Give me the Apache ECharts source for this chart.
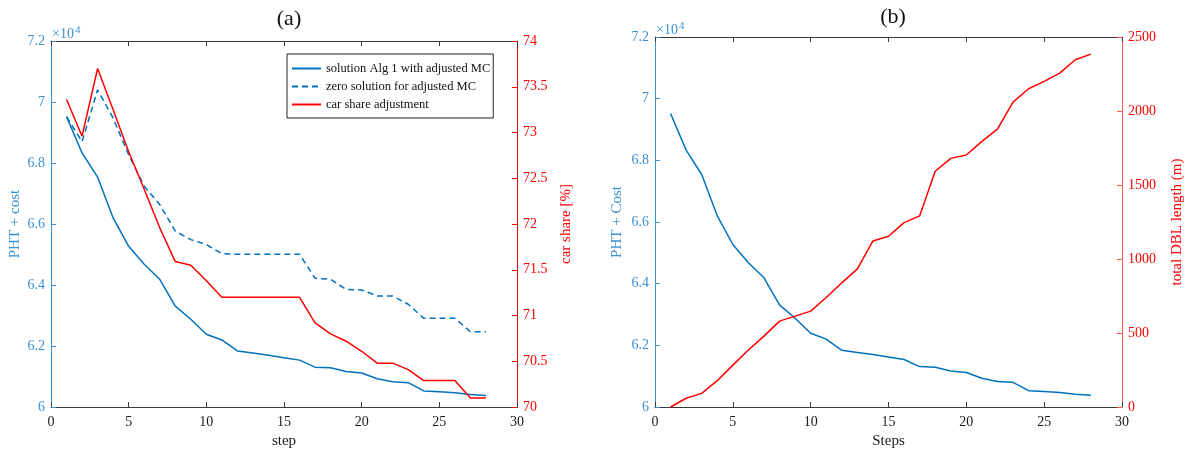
<!DOCTYPE html>
<html>
<head>
<meta charset="utf-8">
<script src="https://cdn.jsdelivr.net/npm/echarts@6/dist/echarts.min.js"></script>
<style>
  html, body { margin: 0; padding: 0; background: #fff; }
  #chart { width: 1190px; height: 454px; }
</style>
</head>
<body>
<div id="chart"></div>
<script>
// Optimisation steps (shared by both panels)
const steps = [1,2,3,4,5,6,7,8,9,10,11,12,13,14,15,16,17,18,19,20,21,22,23,24,25,26,27,28];

// PHT + cost for the solution of Alg 1 with adjusted MC
const phtCostAlg1 = [69520,68330,67540,66200,65270,64680,64190,63310,62880,62390,62200,61840,61770,61700,61620,61540,61310,61290,61170,61120,60930,60830,60800,60530,60500,60470,60410,60380];

// PHT + cost for the zero solution with adjusted MC
const phtCostZero = [69520,68700,70400,69470,68270,67240,66640,65770,65490,65330,65030,65010,65010,65010,65010,65010,64220,64190,63860,63840,63640,63640,63370,62910,62910,62910,62470,62470];

// Car share after adjustment [%]
const carShare = [73.36,72.96,73.70,73.25,72.79,72.38,71.96,71.59,71.55,71.38,71.20,71.20,71.20,71.20,71.20,71.20,70.92,70.80,70.72,70.61,70.48,70.48,70.41,70.29,70.29,70.29,70.10,70.10];

// Total DBL length (m)
const dblLength = [0,59,92,178,283,385,479,580,614,648,740,839,933,1122,1154,1246,1291,1593,1680,1703,1795,1878,2060,2150,2200,2256,2346,2384];

// Axis tick ranges
const xTicks = { min: 0, max: 30, interval: 5 };
const phtTicks = { min: 60000, max: 72000, interval: 2000 };
const shareTicks = { min: 70, max: 74, interval: 0.5 };
const dblTicks = { min: 0, max: 2500, interval: 500 };

const seriesNames = ['solution Alg 1 with adjusted MC', 'zero solution for adjusted MC', 'car share adjustment'];

const BLUE = '#0072BD';
const BLUE_AXIS = '#3b8fd3';
const RED = '#ff0000';
const DARK = '#3a3a3a';
const FONT = '"Liberation Serif", "DejaVu Serif", serif';

const pairs = (xs, ys) => xs.map((x, i) => [x, ys[i]]);

function bottomX(gridIndex, name) {
  return {
    type: 'value', gridIndex, position: 'bottom',
    min: xTicks.min, max: xTicks.max, interval: xTicks.interval,
    name, nameLocation: 'middle', nameGap: 25,
    nameTextStyle: { fontFamily: FONT, fontSize: 15, color: '#1a1a1a' },
    axisLine: { show: true, onZero: false, lineStyle: { color: DARK, width: 1 } },
    axisTick: { show: true, inside: true, length: 5, lineStyle: { color: DARK } },
    axisLabel: { fontFamily: FONT, fontSize: 14, color: '#1a1a1a', margin: 8 },
    splitLine: { show: false }
  };
}

function topX(gridIndex) {
  return {
    type: 'value', gridIndex, position: 'top',
    min: xTicks.min, max: xTicks.max, interval: xTicks.interval,
    axisLine: { show: true, onZero: false, lineStyle: { color: DARK, width: 1 } },
    axisTick: { show: true, inside: true, length: 5, lineStyle: { color: DARK } },
    axisLabel: { show: false },
    splitLine: { show: false }
  };
}

function yAx(gridIndex, position, ticks, color, lineColor, name, nameGap, fmt) {
  return {
    type: 'value', gridIndex, position,
    min: ticks.min, max: ticks.max, interval: ticks.interval,
    name, nameLocation: 'middle', nameGap, nameRotate: 90,
    nameTextStyle: { fontFamily: FONT, fontSize: 15, color },
    axisLine: { show: true, onZero: false, lineStyle: { color: lineColor, width: 1 } },
    axisTick: { show: true, inside: true, length: 5, lineStyle: { color: lineColor } },
    axisLabel: { fontFamily: FONT, fontSize: 14, color, margin: 6, formatter: fmt },
    splitLine: { show: false }
  };
}

const phtFmt = v => String(+(v / 10000).toFixed(1));
const plainFmt = v => String(v);

function lineSeries(name, xAxisIndex, yAxisIndex, data, color, type) {
  return {
    name, type: 'line', xAxisIndex, yAxisIndex, data,
    showSymbol: false, symbol: 'none', animation: false,
    lineStyle: { color, width: 1.5, type: type || 'solid' },
    itemStyle: { color }
  };
}

const exponentLabel = (left, top) => ({
  type: 'text', left, top,
  style: {
    text: '×10{s|4}', fill: BLUE_AXIS, font: '14px ' + FONT,
    rich: { s: { fontSize: 11, verticalAlign: 'top', padding: [0, 0, 7, 1], fill: BLUE_AXIS, fontFamily: FONT } }
  }
});

const chart = echarts.init(document.getElementById('chart'));
chart.setOption({
  backgroundColor: '#ffffff',
  animation: false,
  title: [
    { text: '(a)', left: 284, top: 3, textAlign: 'center',
      textStyle: { fontFamily: FONT, fontSize: 22, fontWeight: 'normal', color: '#111' } },
    { text: '(b)', left: 888, top: 1, textAlign: 'center',
      textStyle: { fontFamily: FONT, fontSize: 22, fontWeight: 'normal', color: '#111' } }
  ],
  graphic: [exponentLabel(52, 25), exponentLabel(656, 21)],
  legend: {
    data: seriesNames,
    orient: 'vertical',
    left: 287, top: 54,
    padding: [8, 3, 7, 4],
    itemWidth: 29, itemHeight: 10, itemGap: 5, itemTextGap: 3,
    itemStyle: { opacity: 0 },
    backgroundColor: '#fff',
    borderColor: '#222', borderWidth: 1,
    textStyle: { fontFamily: FONT, fontSize: 12.5, color: '#111' }
  },
  grid: [
    { left: 51, top: 41, width: 466, height: 367 },
    { left: 655, top: 37, width: 467, height: 370 }
  ],
  xAxis: [
    bottomX(0, 'step'),
    topX(0),
    bottomX(1, 'Steps'),
    topX(1)
  ],
  yAxis: [
    yAx(0, 'left', phtTicks, BLUE_AXIS, BLUE_AXIS, 'PHT + cost', 28, phtFmt),
    yAx(0, 'right', shareTicks, RED, RED, 'car share [%]', 42, plainFmt),
    yAx(1, 'left', phtTicks, BLUE_AXIS, BLUE_AXIS, 'PHT + Cost', 30, phtFmt),
    yAx(1, 'right', dblTicks, RED, '#ff5555', 'total DBL length (m)', 48, plainFmt)
  ],
  series: [
    lineSeries(seriesNames[0], 0, 0, pairs(steps, phtCostAlg1), BLUE),
    lineSeries(seriesNames[1], 0, 0, pairs(steps, phtCostZero), BLUE, [6, 4]),
    lineSeries(seriesNames[2], 0, 1, pairs(steps, carShare), RED),
    lineSeries('PHT + Cost', 2, 2, pairs(steps, phtCostAlg1), BLUE),
    lineSeries('total DBL length (m)', 2, 3, pairs(steps, dblLength), RED)
  ]
});
</script>
</body>
</html>
